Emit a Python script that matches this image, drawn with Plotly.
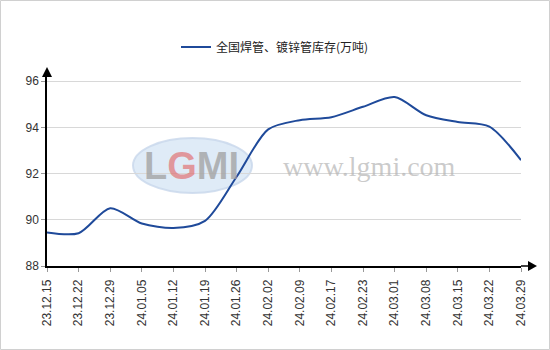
import plotly.graph_objects as go

dates = ["23.12.15", "23.12.22", "23.12.29", "24.01.05", "24.01.12", "24.01.19",
         "24.01.26", "24.02.02", "24.02.09", "24.02.17", "24.02.23", "24.03.01",
         "24.03.08", "24.03.15", "24.03.22", "24.03.29"]
stock = [89.45, 89.42, 90.5, 89.84, 89.64, 89.95, 91.86, 93.91, 94.31, 94.44,
         94.89, 95.31, 94.52, 94.23, 94.03, 92.58]
series_name = "全国焊管、镀锌管库存(万吨)"
y_ticks = [88, 90, 92, 94, 96]

W, H = 550, 350
ML, MR, MT, MB = 47, 29, 73, 84
pw, ph = W - ML - MR, H - MT - MB

fig = go.Figure()
fig.add_trace(go.Scatter(
    x=list(range(len(dates))), y=stock, mode="lines", name=series_name,
    line=dict(color="#1f4a9a", width=2, shape="spline", smoothing=0.8),
))

shapes = []
# outer border
shapes.append(dict(type="rect", xref="paper", yref="paper",
                   x0=-(ML - 0.5) / pw, x1=1 + (MR - 0.5) / pw,
                   y0=-(MB - 0.5) / ph, y1=1 + (MT - 0.5) / ph,
                   line=dict(color="#d0d0d0", width=1), layer="below"))
# watermark ellipse
shapes.append(dict(type="circle", xref="paper", yref="paper",
                   x0=(133 - ML) / pw, x1=(252 - ML) / pw,
                   y0=1 - (193 - MT) / ph, y1=1 - (138 - MT) / ph,
                   fillcolor="rgba(175,205,235,0.4)",
                   line=dict(color="rgba(200,215,235,0.8)", width=2), layer="below"))
# x-axis extension and arrow
shapes.append(dict(type="path", xref="paper", yref="paper", xsizemode="pixel",
                   ysizemode="pixel", xanchor=1, yanchor=0,
                   path="M0,0 L8,0", line=dict(color="black", width=1.5)))
shapes.append(dict(type="path", xref="paper", yref="paper", xsizemode="pixel",
                   ysizemode="pixel", xanchor=1, yanchor=0,
                   path="M7,-5 L16,0 L7,5 Z", fillcolor="black", line=dict(color="black", width=0)))
# y-axis arrow
shapes.append(dict(type="path", xref="paper", yref="paper", xsizemode="pixel",
                   ysizemode="pixel", xanchor=0, yanchor=1,
                   path="M-5,-4 L5,-4 L0,6 Z", fillcolor="black", line=dict(color="black", width=0)))

annotations = [
    dict(text="<b>L<span style='color:rgba(225,95,95,0.8)'>G</span>MI</b>", xref="paper", yref="paper",
         x=(191 - ML) / pw, y=1 - (166 - MT) / ph, showarrow=False,
         font=dict(family="Liberation Sans", size=38, color="rgba(160,160,160,0.75)"),
         xanchor="center", yanchor="middle"),
    dict(text="www.lgmi.com", xref="paper", yref="paper",
         x=(369 - ML) / pw, y=1 - (166 - MT) / ph, showarrow=False,
         font=dict(family="Liberation Serif", size=28, color="rgba(180,180,180,0.7)"),
         xanchor="center", yanchor="middle"),
]

fig.update_layout(
    width=W, height=H,
    margin=dict(l=ML, r=MR, t=MT, b=MB),
    paper_bgcolor="white", plot_bgcolor="white",
    showlegend=True,
    legend=dict(orientation="h", x=0.5, xref="container", xanchor="center",
                y=1 - 47 / H, yref="container", yanchor="middle",
                font=dict(family="Noto Sans CJK SC", size=12, color="#222"),
                itemwidth=30),
    xaxis=dict(range=[0, len(dates) - 1], tickmode="array",
               tickvals=list(range(len(dates))), ticktext=dates,
               tickangle=-90, ticks="outside", ticklen=4, tickcolor="#999",
               ticklabelstandoff=3,
               showgrid=False, showline=True, linecolor="black", linewidth=1.5,
               tickfont=dict(family="Liberation Sans", size=12, color="#333"),
               zeroline=False),
    yaxis=dict(range=[88, 96.35], tickmode="array", tickvals=y_ticks,
               ticks="outside", ticklen=4, tickcolor="#999",
               showgrid=True, gridcolor="#d8d8d8", gridwidth=1,
               showline=True, linecolor="black", linewidth=1.5,
               tickfont=dict(family="Liberation Sans", size=12, color="#333"),
               zeroline=False),
    shapes=shapes, annotations=annotations,
)

fig.write_html("out.html")
